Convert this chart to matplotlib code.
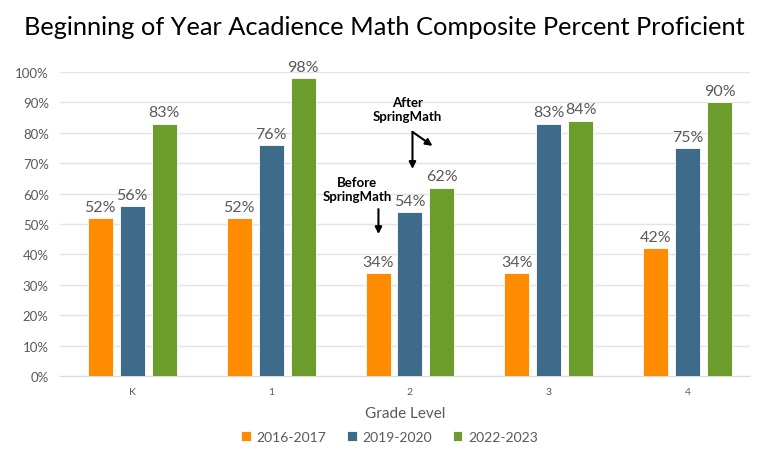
import numpy as np
import matplotlib.pyplot as plt
from matplotlib.ticker import PercentFormatter

grades = ['K', '1', '2', '3', '4']
y2016 = [52, 52, 34, 34, 42]
y2019 = [56, 76, 54, 83, 75]
y2022 = [83, 98, 62, 84, 90]

series = [('2016-2017', y2016, '#FF8C00'),
          ('2019-2020', y2019, '#3E6B8A'),
          ('2022-2023', y2022, '#6B9C2C')]

plt.rcParams['font.family'] = ['Lato', 'DejaVu Sans']
gray = '#595959'

fig = plt.figure(figsize=(7.68, 4.56), dpi=100)
ax = fig.add_axes([0.078, 0.173, 0.899, 0.667])

x = np.arange(len(grades))
width = 0.18
step = 0.23
for i, (name, vals, color) in enumerate(series):
    bars = ax.bar(x + (i - 1) * step, vals, width, color=color, label=name,
                  edgecolor='white', linewidth=0.6, zorder=3)
    for b, v in zip(bars, vals):
        ax.annotate(f'{v}%', (b.get_x() + b.get_width() / 2, v),
                    xytext=(0, 3), textcoords='offset points',
                    ha='center', va='bottom', fontsize=11.5, color=gray)

ax.set_ylim(0, 100)
ax.set_xlim(-0.52, 4.45)
ax.set_yticks(range(0, 101, 10))
ax.yaxis.set_major_formatter(PercentFormatter(decimals=0))
ax.set_xticks(x)
ax.set_xticklabels(grades)
ax.tick_params(axis='x', length=0, labelsize=7.5, colors=gray, pad=8)
ax.tick_params(axis='y', length=0, labelsize=9.5, colors=gray, pad=8)
ax.grid(axis='y', color='#e3e3e3', linewidth=1, zorder=0)
for s in ['top', 'right', 'left']:
    ax.spines[s].set_visible(False)
ax.spines['bottom'].set_color('#d9d9d9')
ax.set_xlabel('Grade Level', fontsize=11, color=gray, labelpad=7)

# annotations
ax.text(1.98, 87.8, 'After\nSpringMath', ha='center', va='center',
        fontsize=9.5, fontweight='bold', linespacing=1.2)
ax.text(1.62, 61.5, 'Before\nSpringMath', ha='center', va='center',
        fontsize=9.5, fontweight='bold', linespacing=1.2)
arrow = dict(arrowstyle='-|>', color='black', lw=1.5, mutation_scale=10,
             shrinkA=0, shrinkB=0)
ax.annotate('', xy=(2.018, 68.1), xytext=(2.018, 80.3), arrowprops=arrow)
ax.annotate('', xy=(2.162, 75.7), xytext=(2.018, 80.3), arrowprops=arrow)
ax.annotate('', xy=(1.773, 46.7), xytext=(1.773, 54.9), arrowprops=arrow)

fig.suptitle('Beginning of Year Acadience Math Composite Percent Proficient',
             x=0.5, y=0.965, fontsize=18.3, color='black')
fig.legend(loc='center', bbox_to_anchor=(0.507, 0.04), ncol=3, frameon=False,
           fontsize=10, handlelength=0.7, handleheight=0.7, columnspacing=1.5,
           handletextpad=0.4, labelcolor=gray)

fig.savefig('out.png', dpi=100)
